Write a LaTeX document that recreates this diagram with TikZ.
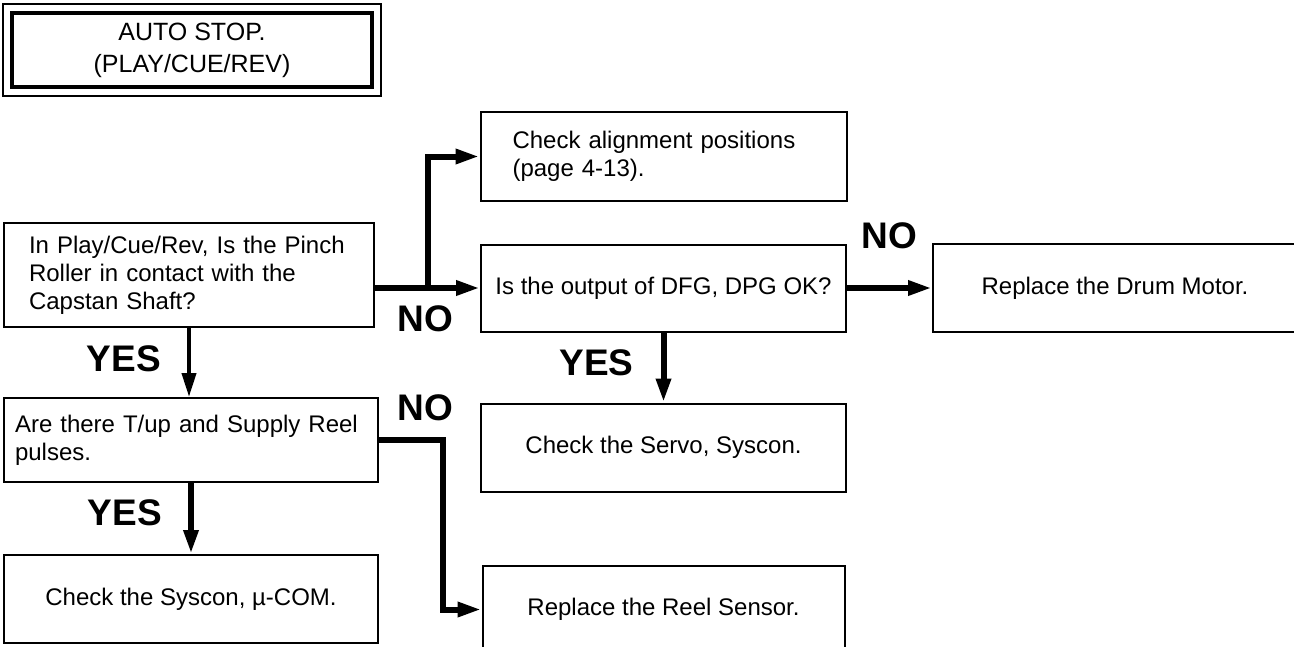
\documentclass[tikz,border=0pt]{standalone}
\usepackage{fontspec}
\setmainfont{Liberation Sans}
\usepackage{tikz}
\usetikzlibrary{arrows.meta,positioning,calc}

\begin{document}
\begin{tikzpicture}[
        x=0.5pt, y=-0.5pt,
        box/.style={rectangle, draw=black, line width=1pt, minimum height=44pt, inner ysep=2pt, font=\fontsize{12}{14}\selectfont},
        textbox/.style={box, align=left},
        midbox/.style={box, align=center},
        titlebox/.style={rectangle, draw=black, line width=2pt, minimum width=180pt, minimum height=37pt, align=center, font=\fontsize{12.5}{16}\selectfont},
        arrow/.style={-{Triangle[length=12pt,width=7pt]}, line width=3pt},
        thinarrow/.style={arrow, line width=2pt},
        lbl/.style={font=\fontsize{18.5}{20}\selectfont\bfseries, inner sep=0pt}
    ]
    \fill[white] (0,0) rectangle (1294,647);
    \useasboundingbox (0,0) rectangle (1294,647);

    \node[titlebox] (title) at (192,50) {AUTO STOP.\\(PLAY/CUE/REV)};
    \draw[line width=1pt] ($(title.north west)+(-7,-7)$) rectangle ($(title.south east)+(7,7)$);

    \node[textbox, text width=160pt, inner xsep=12.5pt, minimum height=52pt] (pinch) at (189,275) {In Play/Cue/Rev, Is the Pinch\\Roller in contact with the\\Capstan Shaft?};
    \node[textbox, text width=176pt, inner xsep=5.5pt, minimum height=42pt] (tup) [below=34.5pt of pinch.south west, anchor=north west] {Are there T/up and Supply Reel\\pulses.};
    \node[midbox, minimum width=187pt] (syscon) [below=35.5pt of tup.south west, anchor=north west] {Check the Syscon, µ-COM.};
    \node[midbox, minimum width=182.5pt, minimum height=43.5pt] (dfg) at (663.5,288) {Is the output of DFG, DPG OK?};
    \node[textbox, text width=151pt, inner xsep=16pt] (align) [above=21pt of dfg] {Check alignment positions\\(page 4-13).};
    \node[midbox, minimum width=182.5pt] (servo) [below=35pt of dfg] {Check the Servo, Syscon.};
    \node[midbox, minimum width=182pt] (drum) [right=42.5pt of dfg] {Replace the Drum Motor.};
    \node[midbox, minimum width=181pt] (reel) [below=36pt of servo] {Replace the Reel Sensor.};

    \coordinate (split) at ($(pinch.east |- dfg.west)!0.5!(dfg.west)$);
    \draw[arrow] (pinch.east |- dfg.west) -- node[lbl, xshift=-1pt, yshift=-15.5pt] (no1) {NO} (dfg.west);
    \draw[arrow] (split) |- (align.west);
    \draw[arrow] (dfg.east) -- node[lbl, yshift=26pt] (no2) {NO} (drum.west);
    \draw[arrow] (dfg.south) -- node[lbl, xshift=-33.5pt, yshift=2.5pt] (yes2) {YES} (dfg.south |- servo.north);
    \draw[thinarrow] (pinch.south) -- node[lbl, xshift=-32.5pt, yshift=2pt] (yes1) {YES} (pinch.south |- tup.north);
    \draw[arrow] (tup.south) -- node[lbl, xshift=-33pt, yshift=3pt] (yes3) {YES} (tup.south |- syscon.north);
    \draw[arrow] (tup.east) -- node[lbl, pos=0.72, yshift=16pt] (no3) {NO} ++(64,0) |- (reel.west);

\end{tikzpicture}
\end{document}
